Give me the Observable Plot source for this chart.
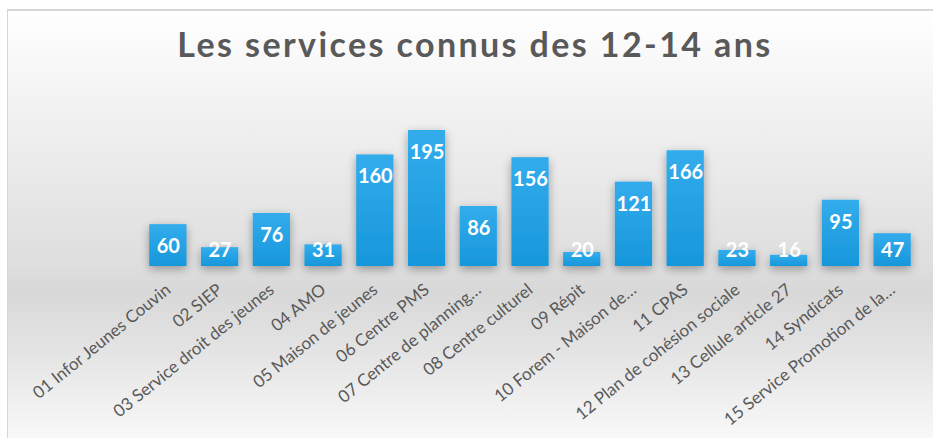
<!DOCTYPE html>
<html>
<head>
<meta charset="utf-8">
<script src="https://cdn.jsdelivr.net/npm/d3@7"></script>
<script src="https://cdn.jsdelivr.net/npm/@observablehq/plot@0.6"></script>
<style>
  html, body { margin: 0; padding: 0; background: #ffffff; }
  #page { position: relative; width: 933px; height: 438px; overflow: hidden; background: #ffffff; }
  #frame {
    position: absolute; left: 7px; top: 9px; width: 940px; height: 440px;
    border: 1px solid #d6d6d6; border-width: 2px 0 0 1px; box-sizing: border-box;
    background: linear-gradient(to bottom, #ffffff 0%, #f3f3f3 20%, #dedede 58%, #d8d8d8 64%, #e4e4e4 78%, #fbfbfb 100%);
  }
  #title {
    position: absolute; left: 0; top: 23px; width: 950px; text-align: center;
    font-family: Lato, "Open Sans", sans-serif; font-weight: 700; font-size: 34px;
    color: #595959; letter-spacing: 2.4px;
  }
  #chart { position: absolute; left: 0; top: 95px; }
</style>
</head>
<body>
<div id="page">
  <div id="frame"></div>
  <div id="title">Les services connus des 12-14 ans</div>
  <div id="chart"></div>
</div>
<script>
const categories = [
  "01 Infor Jeunes Couvin",
  "02 SIEP",
  "03 Service droit des jeunes",
  "04 AMO",
  "05 Maison de jeunes",
  "06 Centre PMS",
  "07 Centre de planning…",
  "08 Centre culturel",
  "09 Répit",
  "10 Forem - Maison de…",
  "11 CPAS",
  "12 Plan de cohésion sociale",
  "13 Cellule article 27",
  "14 Syndicats",
  "15 Service Promotion de la…"
];
const values = [60, 27, 76, 31, 160, 195, 86, 156, 20, 121, 166, 23, 16, 95, 47];

const data = categories.map((c, i) => ({category: c, value: values[i]}));

const chart = Plot.plot({
  width: 933,
  height: 343,
  marginLeft: 142,
  marginRight: 15,
  marginTop: 35,
  marginBottom: 172,
  style: {background: "transparent", fontFamily: "Lato, 'Open Sans', sans-serif"},
  x: {domain: categories, paddingInner: 0.28, paddingOuter: 0.14, round: false, label: null},
  y: {domain: [0, 195], axis: null},
  marks: [
    Plot.barY(data, {x: "category", y: "value", fill: "url(#barGrad)"}),
    Plot.text(data, {
      x: "category",
      y: d => Math.max(d.value, 54.5),
      dy: 22,
      text: d => String(d.value),
      fill: "white",
      fontSize: 20,
      fontWeight: "bold"
    }),
    Plot.axisX({
      tickSize: 0,
      tickRotate: -39,
      tickPadding: 21,
      dx: 0,
      fontSize: 17,
      label: null,
      fill: "#595959",
      textAnchor: "end"
    })
  ]
});

const ns = "http://www.w3.org/2000/svg";
const defs = document.createElementNS(ns, "defs");
defs.innerHTML = `
  <linearGradient id="barGrad" x1="0" y1="0" x2="0" y2="1">
    <stop offset="0%" stop-color="#33acec"/>
    <stop offset="100%" stop-color="#1797db"/>
  </linearGradient>
  <filter id="shadow" x="-40%" y="-20%" width="180%" height="150%">
    <feGaussianBlur in="SourceAlpha" stdDeviation="5"/>
    <feOffset dx="0" dy="3" result="b"/>
    <feComponentTransfer><feFuncA type="linear" slope="0.35"/></feComponentTransfer>
    <feMerge><feMergeNode/><feMergeNode in="SourceGraphic"/></feMerge>
  </filter>`;
chart.insertBefore(defs, chart.firstChild);
const barGroup = chart.querySelector("g[aria-label='bar']");
if (barGroup) barGroup.setAttribute("filter", "url(#shadow)");
document.getElementById("chart").appendChild(chart);
</script>
</body>
</html>
